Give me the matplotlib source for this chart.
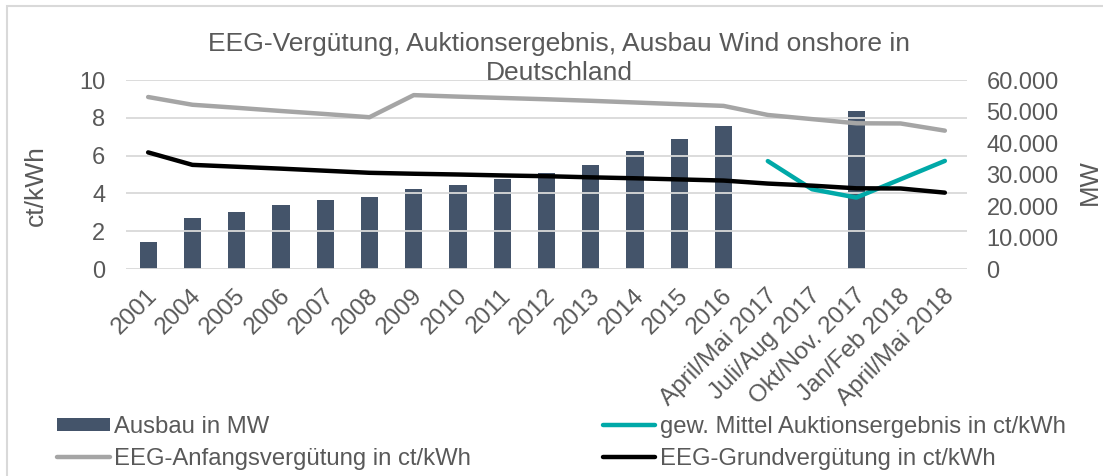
import matplotlib.pyplot as plt
import matplotlib.patches as patches
import matplotlib.ticker as mticker
import matplotlib.transforms as mtransforms
import numpy as np

plt.rcParams['font.family'] = ['Liberation Sans', 'DejaVu Sans']

# categories and values
categories = ['2001', '2004', '2005', '2006', '2007', '2008', '2009', '2010',
              '2011', '2012', '2013', '2014', '2015', '2016',
              'April/Mai 2017', 'Juli/Aug 2017', 'Okt/Nov. 2017',
              'Jan/Feb 2018', 'April/Mai 2018']
nan = np.nan
ausbau_mw = [8600, 16300, 18200, 20300, 22000, 22700, 25500, 26700, 28500,
             30600, 32900, 37400, 41200, 45300, nan, nan, 50300, nan, nan]
auktion = [nan] * 14 + [5.71, 4.22, 3.78, 4.75, 5.72]
anfang = [9.10, 8.69, 8.53, 8.36, 8.20, 8.03, 9.20, 9.12, 9.05, 8.98, 8.90,
          8.81, 8.72, 8.63, 8.15, 7.93, 7.71, 7.70, 7.32]
grund = [6.17, 5.51, 5.41, 5.31, 5.20, 5.09, 5.04, 5.00, 4.95, 4.91, 4.85,
         4.80, 4.74, 4.68, 4.52, 4.41, 4.27, 4.26, 4.04]

title_lines = ['EEG-Vergütung, Auktionsergebnis, Ausbau Wind onshore in',
               'Deutschland']
txt = '#595959'
grid_c = '#D9D9D9'
W, H = 1103, 476

fig = plt.figure(figsize=(W / 100, H / 100), dpi=100)
ax = fig.add_axes([126 / W, 1 - 269 / H, 841 / W, 189 / H])
ax2 = ax.twinx()
x = np.arange(len(categories))

b = ax2.bar(x, ausbau_mw, width=0.39, color='#44546A', label='Ausbau in MW')
l_auk, = ax.plot(x, auktion, color='#00A9A8', lw=3.2, solid_capstyle='round',
                 label='gew. Mittel Auktionsergebnis in ct/kWh')
l_anf, = ax.plot(x, anfang, color='#A5A5A5', lw=3.2, solid_capstyle='round',
                 label='EEG-Anfangsvergütung in ct/kWh')
l_gru, = ax.plot(x, grund, color='#000000', lw=3.2, solid_capstyle='round',
                 label='EEG-Grundvergütung in ct/kWh')

# lines above the bars
ax.set_zorder(ax2.get_zorder() + 1)
ax.patch.set_visible(False)

ax.set_xlim(-0.5, len(categories) - 0.5)
ax.set_ylim(0, 10)
ax.set_yticks(np.arange(0, 11, 2))
ax2.set_ylim(0, 60000)
ax2.set_yticks(np.arange(0, 60001, 10000))
ax2.yaxis.set_major_formatter(
    mticker.FuncFormatter(lambda v, p: f'{int(v):,}'.replace(',', '.')))

ax.yaxis.grid(True, color=grid_c, lw=1.3)
ax.set_axisbelow(True)
for a in (ax, ax2):
    for s in a.spines.values():
        s.set_visible(False)
ax.tick_params(axis='y', length=0, pad=15, labelsize=17, labelcolor=txt)
ax2.tick_params(axis='y', length=0, pad=14, labelsize=17, labelcolor=txt)
ax.set_xticks(x)
ax.set_xticklabels(categories, rotation=45, ha='right', va='center',
                   rotation_mode='anchor')
ax.tick_params(axis='x', length=0, pad=17, labelsize=17.5, labelcolor=txt)
shift = mtransforms.ScaledTranslation(4 / 72, 0, fig.dpi_scale_trans)
for lab in ax.get_xticklabels():
    lab.set_transform(lab.get_transform() + shift)

fig.text(559.5 / W, 1 - 51 / H, title_lines[0], ha='center', va='baseline',
         fontsize=19, color=txt)
fig.text(559.5 / W, 1 - 80 / H, title_lines[1], ha='center', va='baseline',
         fontsize=19, color=txt)
fig.text(36 / W, 1 - 186 / H, 'ct/kWh', rotation=90, ha='center',
         va='center', fontsize=19, color=txt)
fig.text(1090 / W, 1 - 182 / H, 'MW', rotation=90, ha='center',
         va='center', fontsize=18.5, color=txt)

fig.legend([b, l_anf, l_auk, l_gru],
           [b.get_label(), l_anf.get_label(), l_auk.get_label(), l_gru.get_label()],
           loc='center left', bbox_to_anchor=(57 / W, 1 - 443 / H),
           ncol=2, frameon=False, fontsize=17.2, labelcolor=txt,
           handlelength=2.2, handleheight=0.5, handletextpad=0.2,
           columnspacing=5.5, labelspacing=0.42, borderpad=0, borderaxespad=0)

fig.patches.append(patches.Rectangle((7 / W, -0.05), 1.0, 1.05 - 6 / H,
                                     transform=fig.transFigure, fill=False,
                                     edgecolor=grid_c, lw=1.5))

fig.savefig('out.png', dpi=100)
